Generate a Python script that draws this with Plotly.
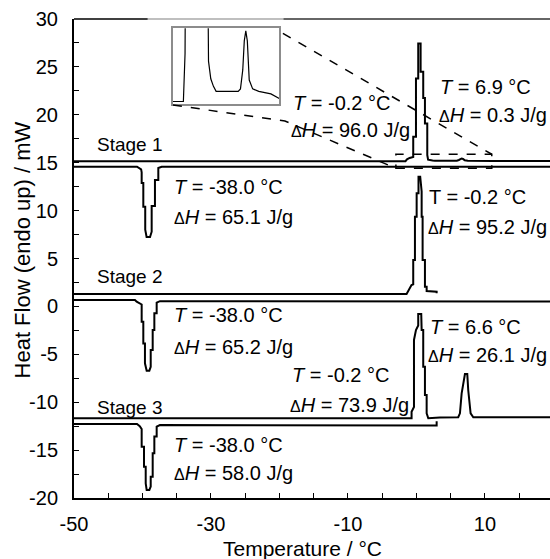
import plotly.graph_objects as go

# ---------------- data ----------------
# Stage 1 heating (upper line, melting peaks at ~-0.2 and ~6.9 C)
s1_heat_T = [-50, -1.6, -1.38, -1.0, -0.47, -0.47, -0.07, -0.07, 0.26, 0.26, 0.61, 0.61, 0.99, 0.99,
             1.24, 1.24, 1.58, 1.58, 1.7, 2.0, 2.35, 2.7, 5.6, 5.9, 6.2, 6.4, 6.6, 6.8, 7.05, 7.5,
             8.3, 9.9, 11.1, 19.5]
s1_heat_HF = [15.16, 15.16, 15.35, 15.5, 15.6, 17.7, 17.7, 23.8, 23.8, 27.45, 27.45, 24.5, 24.5, 21.75,
              21.75, 19.1, 19.1, 15.8, 15.32, 15.25, 15.22, 15.2, 15.2, 15.21, 15.285, 15.40, 15.44,
              15.40, 15.245, 15.21, 15.2, 15.19, 15.17, 15.17]
# Stage 1 cooling (lower line, crystallisation dip at ~-38 C)
s1_cool_T = [-50, -40.8, -40.2, -40.12, -40.12, -39.88, -39.88, -39.6, -39.6, -39.4, -38.9, -38.66,
             -38.66, -38.18, -38.18, -37.69, -37.69, -37.2, 19.5]
s1_cool_HF = [14.58, 14.58, 14.3, 14.0, 12.88, 12.88, 10.41, 10.41, 8.0, 7.25, 7.25, 7.8, 10.48,
              10.48, 13.19, 13.19, 14.45, 14.58, 14.58]

# Stage 2 heating
s2_heat_T = [-50, -1.44, -0.72, -0.47, -0.47, -0.22, -0.22, 0.03, 0.03, 0.3, 0.3, 0.55, 0.76, 0.76,
             0.9, 0.9, 1.24, 1.24, 1.49, 1.49, 2.95, 2.95]
s2_heat_HF = [1.29, 1.29, 2.22, 2.3, 4.84, 4.84, 9.36, 9.36, 11.8, 11.8, 13.54, 13.54, 12.0, 9.36,
              9.36, 4.84, 4.84, 2.06, 2.06, 1.6, 1.53, 1.38]
# Stage 2 cooling
s2_cool_T = [-50, -41.1, -40.85, -40.12, -40.12, -39.88, -39.88, -39.64, -39.64, -39.39, -39.0, -38.8,
             -38.8, -38.51, -38.51, -38.27, -38.27, -37.93, -37.93, -37.45, 19.5]
s2_cool_HF = [0.67, 0.67, 0.49, 0.2, -1.6, -1.6, -3.86, -3.86, -5.94, -6.71, -6.71, -6.3, -4.55,
              -4.55, -2.46, -2.46, -0.72, -0.72, 0.39, 0.55, 0.5]

# Stage 3 heating
s3_heat_T = [-50, -0.71, -0.71, -0.36, -0.36, -0.07, 0.26, 0.26, 0.7, 0.76, 0.99, 0.99, 1.24, 1.24,
             1.49, 1.49, 1.73, 3.43, 6.1, 6.35, 6.6, 6.84, 7.08, 7.42, 7.56, 7.91, 8.3, 19.5]
s3_heat_HF = [-11.68, -11.68, -11.0, -10.5, -3.5, -2.46, -2.0, -0.79, -0.79, -2.46, -2.46, -6.29,
              -6.29, -9.25, -9.25, -11.16, -11.68, -11.6, -11.57, -11.16, -9.07, -8.03, -7.06, -7.06,
              -8.73, -11.16, -11.57, -11.57]
# Stage 3 cooling
s3_cool_T = [-50, -40.8, -40.4, -40.12, -40.12, -39.78, -39.78, -39.53, -39.53, -39.39, -39.0, -38.8,
             -38.8, -38.51, -38.51, -38.27, -38.27, -37.93, -37.93, -37.45, 2.95, 2.95]
s3_cool_HF = [-12.28, -12.28, -12.5, -12.8, -14.65, -14.65, -16.73, -16.73, -18.47, -19.16, -19.16,
              -18.8, -17.77, -17.77, -15.33, -15.33, -13.58, -13.58, -12.55, -12.38, -12.42, -12.0]

# axis ticks
x_tickvals = [-50, -45, -40, -35, -30, -25, -20, -15, -10, -5, 0, 5, 10, 15]
x_ticktext = ["-50", "", "", "", "-30", "", "", "", "-10", "", "", "", "10", ""]
y_tickvals = [30, 27.5, 25, 22.5, 20, 17.5, 15, 12.5, 10, 7.5, 5, 2.5, 0, -2.5, -5, -7.5, -10,
              -12.5, -15, -17.5, -20]
y_ticktext = ["30", "", "25", "", "20", "", "15", "", "10", "", "5", "", "0", "", "-5", "", "-10",
              "", "-15", "", "-20"]

stage_labels = ["Stage 1", "Stage 2", "Stage 3"]
stage_label_y = [16.85, 3.07, -10.6]

D = "<span style='font-size:16px'>Δ</span><i>H</i>"
peak_texts = [
    ("<i>T</i> = -38.0 °C", -35.7, 12.46), (D + " = 65.1 J/g", -35.7, 9.33),
    ("<i>T</i> = -38.0 °C", -35.7, -0.90), (D + " = 65.2 J/g", -35.7, -4.24),
    ("<i>T</i> = -38.0 °C", -35.7, -14.47), (D + " = 58.0 J/g", -35.7, -17.39),
    ("<i>T</i> = -0.2 °C", -18.3, 21.23), (D + " = 96.0 J/g", -18.6, 18.41),
    ("<i>T</i> = 6.9 °C", 3.1, 22.9), (D + " = 0.3 J/g", 2.95, 19.98),
    ("T = -0.2 °C", 1.6, 11.42), (D + " = 95.2 J/g", 1.45, 8.29),
    ("<i>T</i> = -0.2 °C", -18.4, -7.16), (D + " = 73.9 J/g", -18.7, -10.29),
    ("<i>T</i> = 6.6 °C", 1.7, -2.15), (D + " = 26.1 J/g", 1.45, -5.07),
]

FONT = "Arial, Liberation Sans, sans-serif"
fig = go.Figure()
line = dict(color="black", width=2)
for T, HF in [(s1_heat_T, s1_heat_HF), (s1_cool_T, s1_cool_HF), (s2_heat_T, s2_heat_HF),
              (s2_cool_T, s2_cool_HF), (s3_heat_T, s3_heat_HF), (s3_cool_T, s3_cool_HF)]:
    fig.add_trace(go.Scatter(x=T, y=HF, mode="lines", line=line, showlegend=False,
                             hoverinfo="skip", xaxis="x", yaxis="y"))

# inset: zoom of stage 1 heating curve
fig.add_trace(go.Scatter(x=s1_heat_T, y=s1_heat_HF, mode="lines",
                         line=dict(color="black", width=1.2), showlegend=False,
                         hoverinfo="skip", xaxis="x2", yaxis="y2"))

fig.update_layout(
    width=550, height=559,
    margin=dict(l=74, r=0, t=19, b=61),
    paper_bgcolor="white", plot_bgcolor="white",
    font=dict(family=FONT, size=20, color="black"),
    xaxis=dict(range=[-50, 19.5], tickvals=x_tickvals, ticktext=x_ticktext, ticks="inside",
               ticklen=5, tickwidth=1.2, tickcolor="black", showline=True, linecolor="black",
               linewidth=2, showgrid=False, zeroline=False, ticklabelstandoff=7,
               tickfont=dict(size=20)),
    yaxis=dict(range=[-20, 30], tickvals=y_tickvals, ticktext=y_ticktext, ticks="inside",
               ticklen=5, tickwidth=1.2, tickcolor="black", showline=True, linecolor="black",
               linewidth=2, showgrid=False, zeroline=False, ticklabelstandoff=10,
               tickfont=dict(size=20)),
    xaxis2=dict(domain=[0.2074, 0.4313], anchor="y2", range=[-3, 11], showline=True, mirror=True,
                linecolor="#8c8c8c", linewidth=1.5, showticklabels=False, ticks="",
                showgrid=False, zeroline=False),
    yaxis2=dict(domain=[0.8225, 0.9806], anchor="x2", range=[15.15, 15.45], showline=True,
                mirror=True, linecolor="#8c8c8c", linewidth=1.5, showticklabels=False, ticks="",
                showgrid=False, zeroline=False),
)

shapes = [
    # top frame line (lighter in the middle)
    dict(type="line", xref="paper", yref="paper", x0=0, x1=0.155, y0=1, y1=1,
         line=dict(color="black", width=1.5)),
    dict(type="line", xref="paper", yref="paper", x0=0.155, x1=0.44, y0=1, y1=1,
         line=dict(color="#aaaaaa", width=1.5)),
    dict(type="line", xref="paper", yref="paper", x0=0.44, x1=1, y0=1, y1=1,
         line=dict(color="#333333", width=1.5)),
    # dashed zoom rectangle
    dict(type="rect", xref="x", yref="y", x0=-3, x1=11, y0=14.42, y1=15.88,
         line=dict(color="black", width=1.5, dash="dash")),
    # connector lines
    dict(type="line", xref="x", yref="y", x0=-19.5, y0=28.5, x1=11, y1=15.88,
         line=dict(color="black", width=1.5, dash="dash")),
    dict(type="path", xref="x", yref="y", path="M -35.55,21.02 L -19.2,19.35 L -3,14.42",
         line=dict(color="black", width=1.5, dash="dash")),
]
fig.update_layout(shapes=shapes)

ann = []
for s, y in zip(stage_labels, stage_label_y):
    ann.append(dict(text=s, x=-46.93, y=y, xref="x", yref="y", xanchor="left", yanchor="middle",
                    showarrow=False, font=dict(size=19)))
for txt, x, y in peak_texts:
    ann.append(dict(text=txt, x=x, y=y, xref="x", yref="y", xanchor="left", yanchor="middle",
                    showarrow=False, font=dict(size=20)))
ann.append(dict(text="Temperature / °C", x=0.479, y=-0.106, xref="paper", yref="paper",
                xanchor="center", yanchor="middle", showarrow=False, font=dict(size=21)))
ann.append(dict(text="Heat Flow (endo up) / mW", x=-0.108, y=0.518, xref="paper", yref="paper",
                xanchor="center", yanchor="middle", textangle=-90, showarrow=False,
                font=dict(size=22)))
fig.update_layout(annotations=ann)

fig.write_html("out.html")
